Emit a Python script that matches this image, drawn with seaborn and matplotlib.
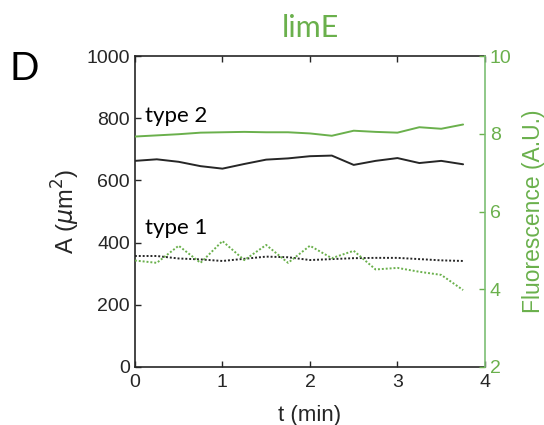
import matplotlib
matplotlib.use("Agg")
import matplotlib.pyplot as plt
import seaborn as sns
import pandas as pd

# time points (min)
t = [0, 0.25, 0.5, 0.75, 1.0, 1.25, 1.5, 1.75, 2.0, 2.25, 2.5, 2.75, 3.0, 3.25, 3.5, 3.75]

# cell area (um^2)
area_type2 = [663, 668, 660, 646, 638, 653, 667, 671, 678, 680, 650, 663, 672, 656, 663, 652]
area_type1 = [357, 357, 349, 346, 341, 348, 355, 353, 344, 347, 350, 351, 351, 347, 343, 341]

# limE fluorescence (A.U.)
fluo_type2 = [7.93, 7.96, 7.99, 8.03, 8.04, 8.05, 8.04, 8.04, 8.01, 7.95, 8.08, 8.05, 8.03, 8.17, 8.13, 8.24]
fluo_type1 = [4.74, 4.68, 5.12, 4.68, 5.24, 4.75, 5.14, 4.68, 5.12, 4.80, 4.99, 4.51, 4.55, 4.45, 4.37, 3.98]

df = pd.DataFrame({"t": t, "a2": area_type2, "a1": area_type1,
                   "f2": fluo_type2, "f1": fluo_type1})

sns.set_style("ticks")
plt.rcParams['font.family'] = ['Liberation Sans', 'DejaVu Sans']
plt.rcParams['xtick.direction'] = 'in'
plt.rcParams['ytick.direction'] = 'in'

dark = '#262626'
green = '#6ab04c'
green_ax = '#7dbf74'

fig = plt.figure(figsize=(5.44, 4.25), dpi=100)
ax = fig.add_axes([0.248, 0.1365, 0.6435, 0.7315])
ax2 = ax.twinx()

sns.lineplot(data=df, x="t", y="a2", ax=ax, color=dark, lw=1.4)
sns.lineplot(data=df, x="t", y="a1", ax=ax, color=dark, lw=1.4, linestyle=(0, (1, 1)))
sns.lineplot(data=df, x="t", y="f2", ax=ax2, color=green, lw=1.4)
sns.lineplot(data=df, x="t", y="f1", ax=ax2, color=green, lw=1.4, linestyle=(0, (1, 1)))

ax.set_xlim(0, 4)
ax.set_ylim(0, 1000)
ax.set_xticks([0, 1, 2, 3, 4])
ax.set_yticks([0, 200, 400, 600, 800, 1000])
ax2.set_ylim(2, 10)
ax2.set_yticks([2, 4, 6, 8, 10])

ax.set_xlabel("t (min)", fontsize=16, color=dark, labelpad=10)
ax.set_ylabel(r"A ($\mu$m$^2$)", fontsize=17, color=dark, labelpad=3)
ax2.set_ylabel("Fluorescence (A.U.)", fontsize=16.5, color=green)
ax2.yaxis.set_label_coords(1.105, 0.5)

ax.tick_params(axis='x', pad=5)
ax.tick_params(axis='both', labelsize=14, colors=dark, length=4, width=1, top=True)
ax2.tick_params(axis='y', labelsize=14, colors=green, length=4, width=1)

for s in ['left', 'bottom', 'top']:
    ax.spines[s].set_visible(True)
    ax.spines[s].set_color(dark)
    ax.spines[s].set_linewidth(1.2)
ax.spines['right'].set_visible(False)
for s in ['left', 'bottom', 'top']:
    ax2.spines[s].set_visible(False)
ax2.spines['right'].set_visible(True)
ax2.spines['right'].set_color(green_ax)
ax2.spines['right'].set_linewidth(1.2)

ax.text(0.11, 788, "type 2", fontsize=16, family=['Lato', 'DejaVu Sans'], color='black', va='baseline')
ax.text(0.11, 428, "type 1", fontsize=16, family=['Lato', 'DejaVu Sans'], color='black', va='baseline')

fig.text(0.57, 0.912, "limE", fontsize=22, family=['Lato', 'DejaVu Sans'], color=green, ha='center', va='baseline')
fig.text(0.018, 0.812, "D", fontsize=28, family=['Lato', 'DejaVu Sans'], color='black', va='baseline')

fig.savefig("out.png", dpi=100)
